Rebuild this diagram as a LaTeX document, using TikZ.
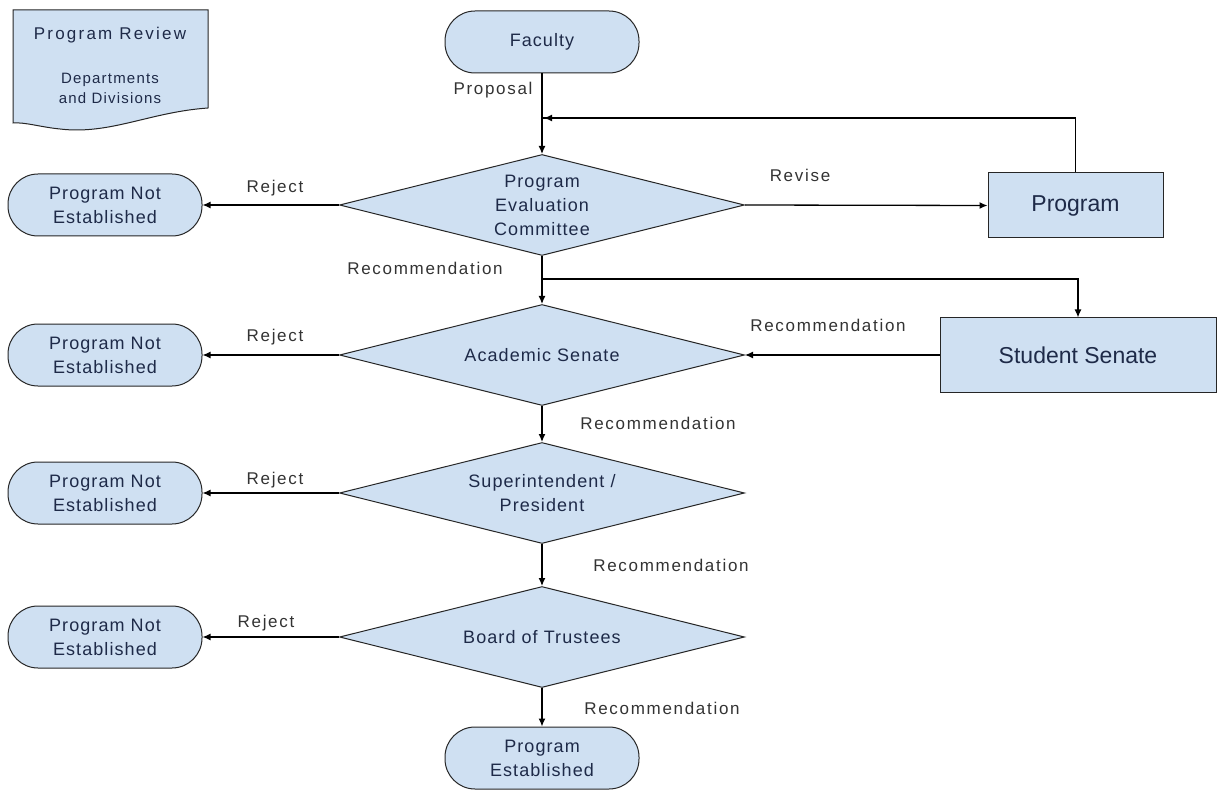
\documentclass[tikz,border=0pt]{standalone}
\usepackage{fontspec}
\setmainfont{Liberation Sans}
\newfontfamily\lblfont[LetterSpace=10]{Liberation Sans}
\newfontfamily\nodefont[LetterSpace=6]{Liberation Sans}
\newfontfamily\docfontA[LetterSpace=13]{Liberation Sans}
\newfontfamily\docfontB[LetterSpace=8]{Liberation Sans}
\usetikzlibrary{shapes.geometric,arrows.meta}
\definecolor{boxfill}{HTML}{CFE0F2}
\definecolor{boxtext}{HTML}{1E2A48}
\definecolor{lbltext}{HTML}{333333}
\begin{document}
\begin{tikzpicture}[x=1pt,y=-1pt,
  shapeline/.style={draw=black!85,line width=1pt,fill=boxfill,text=boxtext},
  term/.style={shapeline,rectangle,rounded corners=30pt,minimum width=194pt,minimum height=62pt,align=center,inner sep=0pt,font=\nodefont\fontsize{18}{24}\selectfont},
  dec/.style={shapeline,diamond,aspect=4,minimum width=405pt,minimum height=101pt,inner sep=0pt,align=center,font=\nodefont\fontsize{18}{24}\selectfont},
  procbox/.style={shapeline,rectangle,align=center,inner sep=0pt,font=\fontsize{23}{27}\selectfont},
  lbl/.style={text=lbltext,font=\lblfont\fontsize{17}{20}\selectfont,inner sep=0pt},
  arr/.style={draw=black,line width=1.3pt,-{Latex[length=8pt,width=7pt]}},
  ln/.style={draw=black,line width=1.3pt}
]
\useasboundingbox (0,0) rectangle (1217,791);
\fill[white] (0,0) rectangle (1217,791);

% document shape
\path[shapeline] (13,10) -- (208,10) -- (208,108)
  .. controls (150,112) and (110,135) .. (60,129)
  .. controls (40,127) and (25,122) .. (13,123) -- cycle;
\node[text=boxtext,font=\docfontA\fontsize{17}{20}\selectfont] (docA) at (110,35) {Program Review};
\node[text=boxtext,font=\docfontB\fontsize{15}{20}\selectfont,align=center] (docB) at (110,88) {Departments\\and Divisions};

% nodes
\node[term] (fac) at (542,42) {Faculty};
\node[dec] (d1) at (542,205) {Program\\Evaluation\\Committee};
\node[dec] (d2) at (542,355) {Academic Senate};
\node[dec] (d3) at (542,493) {Superintendent /\\President};
\node[dec] (d4) at (542,637) {Board of Trustees};
\node[term] (pe) at (542,758) {Program\\Established};
\node[term] (p1) at (105,205) {Program Not\\Established};
\node[term] (p2) at (105,355) {Program Not\\Established};
\node[term] (p3) at (105,493) {Program Not\\Established};
\node[term] (p4) at (105,637) {Program Not\\Established};
\node[procbox,minimum width=175pt,minimum height=65pt] (prog) at (1075.5,205.5) {Program};
\node[procbox,minimum width=276pt,minimum height=74pt] (ss) at (1078,355) {Student Senate};

\coordinate (fb) at (542,118);
\coordinate (br) at (542,279);

% connectors
\draw[arr] (fac) -- (d1);
\draw[ln] (prog.north) |- (fb);
\draw[arr] (prog.north |- fb) -- ([xshift=2pt]fb);
\draw[arr] (d1.east) -- (prog.west);
\draw[arr] (d1.west) -- (p1.east);
\draw[arr] (d1.south) -- (d2.north);
\draw[arr] (br) -| (ss.north);
\draw[arr] (ss.west) -- (d2.east);
\draw[arr] (d2.west) -- (p2.east);
\draw[arr] (d2.south) -- (d3.north);
\draw[arr] (d3.west) -- (p3.east);
\draw[arr] (d3.south) -- (d4.north);
\draw[arr] (d4.west) -- (p4.east);
\draw[arr] (d4.south) -- (pe.north);

% labels
\node[lbl] (lprop) at (493,90) {Proposal};
\node[lbl] (lrev) at (800,175) {Revise};
\node[lbl] (lr1) at (275,188) {Reject};
\node[lbl] (lr2) at (275,337) {Reject};
\node[lbl] (lr3) at (275,480) {Reject};
\node[lbl] (lr4) at (266,623) {Reject};
\node[lbl] (lrec1) at (425,268) {Recommendation};
\node[lbl] (lrec2) at (828,325) {Recommendation};
\node[lbl] (lrec3) at (658,423) {Recommendation};
\node[lbl] (lrec4) at (671,565) {Recommendation};
\node[lbl] (lrec5) at (662,708) {Recommendation};
\end{tikzpicture}
\end{document}
